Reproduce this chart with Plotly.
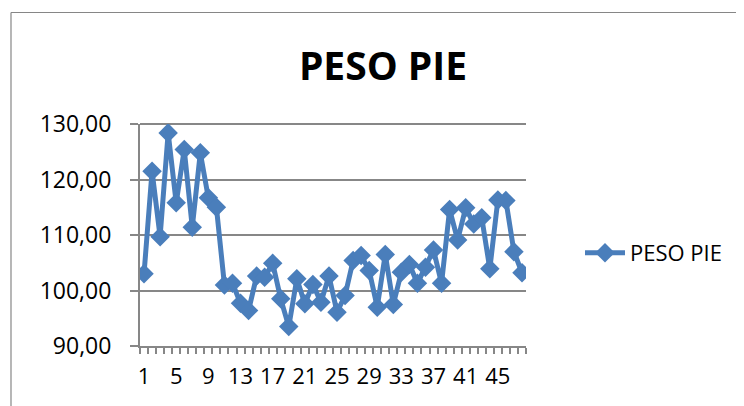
import plotly.graph_objects as go

# ---- data ----
categories = list(range(1, 49))
peso_pie = [103.0, 121.5, 109.7, 128.4, 115.8, 125.4, 111.4, 124.8, 116.7, 115.0,
            101.0, 101.3, 97.7, 96.4, 102.6, 102.4, 104.9, 98.5, 93.5, 102.1,
            97.6, 101.1, 97.9, 102.6, 96.1, 99.1, 105.4, 106.3, 103.6, 97.0,
            106.5, 97.5, 103.3, 104.7, 101.3, 104.2, 107.3, 101.3, 114.6, 109.1,
            114.9, 112.0, 113.1, 103.9, 116.3, 116.2, 107.0, 103.2]
x_tick_labels = [1, 5, 9, 13, 17, 21, 25, 29, 33, 37, 41, 45]
y_tick_values = [90, 100, 110, 120, 130]
series_name = "PESO PIE"
title_text = "PESO PIE"

FONT = "Open Sans"
BLUE = "#4A7EBB"
GRID = "#878787"

# page body has an 8px margin, so lay out in page pixels minus 8
OFF = 8
W, H = 744 - OFF, 406 - OFF
L, R, T, B = 140 - OFF, 526 - OFF, 124 - OFF, 346 - OFF

fig = go.Figure()
fig.add_trace(go.Scatter(
    x=categories, y=peso_pie, name=series_name, mode="lines+markers",
    line=dict(color=BLUE, width=5),
    marker=dict(symbol="diamond", size=15, color=BLUE),
))

boundaries = [c - 0.5 for c in categories] + [categories[-1] + 0.5]

def px_x(p):
    return (p - OFF - L) / (R - L)

def px_y(p):
    return (B - (p - OFF)) / (B - T)

fig.update_layout(
    width=W, height=H,
    margin=dict(l=L, r=W - R, t=T, b=H - B, pad=0),
    paper_bgcolor="white", plot_bgcolor="white",
    separators=",.",
    font=dict(family=FONT, size=22, color="black"),
    title=dict(text="<b>" + title_text + "</b>", x=(383 - OFF) / W, xanchor="center",
               xref="container", yref="container", y=1 - (66 - OFF) / H, yanchor="middle",
               font=dict(family=FONT, size=39, color="black")),
    showlegend=True,
    legend=dict(x=px_x(580), y=px_y(253), xanchor="left", yanchor="middle",
                font=dict(family=FONT, size=22, color="black"),
                bgcolor="rgba(0,0,0,0)", itemwidth=40),
    xaxis=dict(
        range=[0.5, categories[-1] + 0.5],
        tickmode="array", tickvals=x_tick_labels,
        ticktext=[str(v) for v in x_tick_labels],
        ticks="", showgrid=False, zeroline=False,
        showline=True, linecolor=GRID, linewidth=2,
        ticklabelstandoff=10,
        tickfont=dict(family=FONT, size=22, color="black"),
        minor=dict(tickmode="array", tickvals=boundaries, ticks="outside",
                   ticklen=6, tickwidth=2, tickcolor=GRID, showgrid=False),
    ),
    yaxis=dict(
        range=[90, 130], tickmode="array", tickvals=y_tick_values,
        tickformat=".2f", ticks="outside", ticklen=8, tickwidth=2, tickcolor=GRID,
        showgrid=True, gridcolor=GRID, gridwidth=2, zeroline=False,
        showline=True, linecolor=GRID, linewidth=2,
        ticklabelstandoff=14,
        tickfont=dict(family=FONT, size=23, color="black"),
    ),
    shapes=[
        dict(type="line", xref="paper", yref="paper",
             x0=px_x(11), x1=px_x(11), y0=px_y(12.5), y1=px_y(420),
             line=dict(color="#868686", width=1.2)),
        dict(type="line", xref="paper", yref="paper",
             x0=px_x(11), x1=px_x(760), y0=px_y(12.5), y1=px_y(12.5),
             line=dict(color="#868686", width=1.2)),
        dict(type="line", xref="paper", yref="paper",
             x0=0, x1=1, y0=1, y1=1, layer="below",
             line=dict(color=GRID, width=2)),
    ],
)

fig.write_html("out.html")
